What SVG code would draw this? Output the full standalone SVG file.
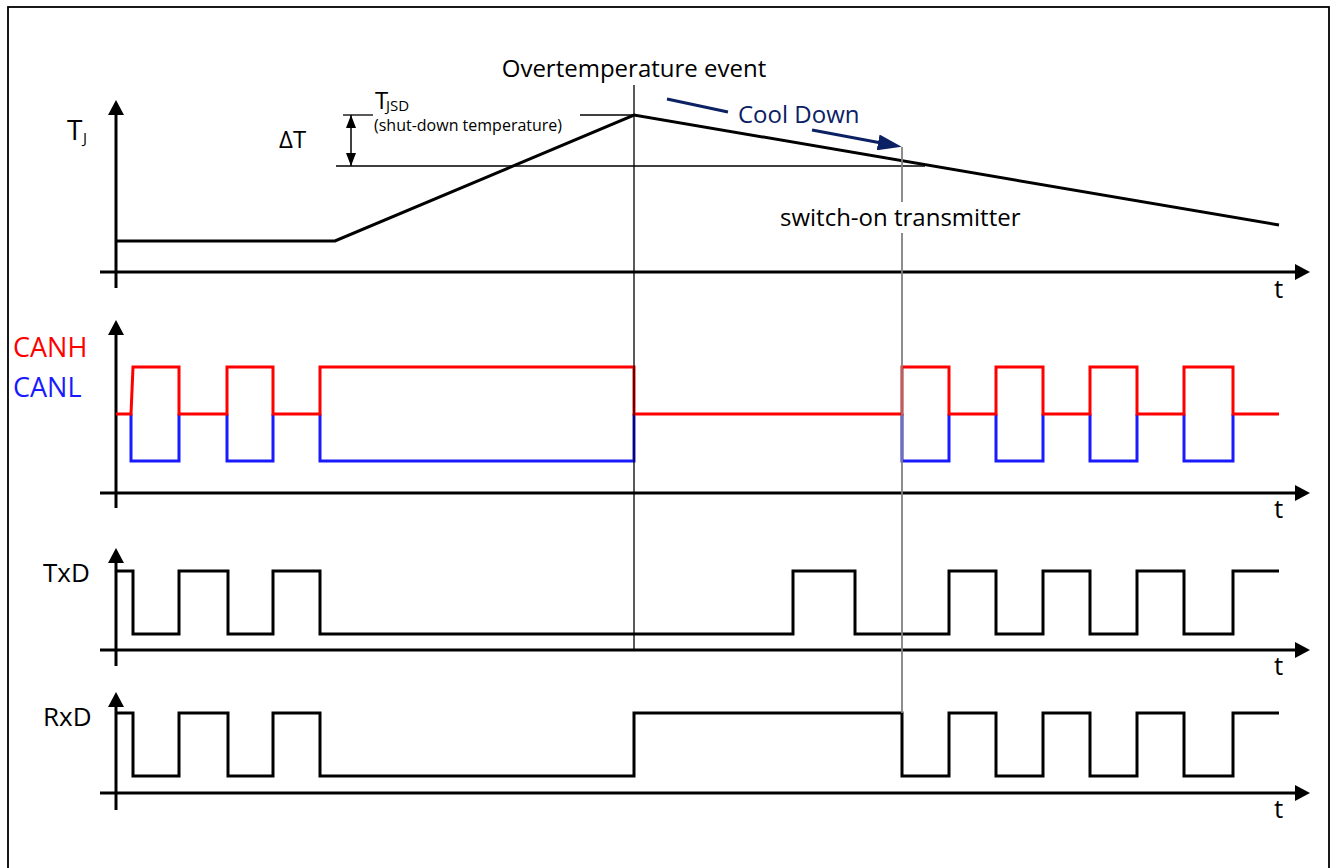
<svg xmlns="http://www.w3.org/2000/svg" width="1333" height="868" viewBox="0 0 1333 868">
<style>
text{font-family:"Open Sans","Noto Sans","DejaVu Sans",sans-serif;fill:#000}
.axis{stroke:#000;stroke-width:3;fill:none}
.sig{stroke:#000;stroke-width:3;fill:none;stroke-linejoin:miter}
.thin{stroke:#000;stroke-width:1.3;fill:none}
.gray{stroke:#808080;stroke-width:1.8;fill:none}
.navy{stroke:#0b2164;stroke-width:3;fill:none}
</style>
<defs>
<marker id="ah" viewBox="0 0 15 16" refX="5" refY="8" markerWidth="15" markerHeight="16" orient="auto" markerUnits="userSpaceOnUse"><path d="M0,0 L15,8 L0,16 Z" fill="#000"/></marker>
<marker id="sm" viewBox="0 0 13 10" refX="13" refY="5" markerWidth="13" markerHeight="10" orient="auto-start-reverse" markerUnits="userSpaceOnUse"><path d="M0,0 L13,5 L0,10 Z" fill="#000"/></marker>
<marker id="nv" viewBox="0 0 24 16" refX="6" refY="8" markerWidth="24" markerHeight="16" orient="auto" markerUnits="userSpaceOnUse"><path d="M0,0 L24,8 L0,16 Z" fill="#0b2164"/></marker>
</defs>
<rect id="frame" x="8" y="7" width="1321" height="880" fill="#fff" stroke="#000" stroke-width="1.8"/>

<g id="panel-tj">
<line class="axis" x1="116" y1="288" x2="116" y2="110" marker-end="url(#ah)"/>
<line class="axis" x1="100" y1="272" x2="1300" y2="272" marker-end="url(#ah)"/>
<path class="sig" d="M116,241 H335 L634,115 L1279,225"/>
<text x="67" y="140" font-size="28">T</text><text x="83" y="143" font-size="15">J</text>
<text x="1274" y="298" font-size="26">t</text>
</g>

<g id="panel-can">
<line class="axis" x1="116" y1="508" x2="116" y2="330" marker-end="url(#ah)"/>
<line class="axis" x1="100" y1="493" x2="1300" y2="493" marker-end="url(#ah)"/>
<path d="M131,414 V461 H179 V414 M227,414 V461 H273 V414 M320,414 V461 H634 V414 M902,414 V461 H949 V414 M996,414 V461 H1043 V414 M1090,414 V461 H1137 V414 M1184,414 V461 H1233 V414" fill="none" stroke="#1a1aff" stroke-width="3"/>
<path d="M116,414 H131 L133,367 H179 V414 H227 V367 H273 V414 H320 V367 H634 V414 H902 V367 H949 V414 H996 V367 H1043 V414 H1090 V367 H1137 V414 H1184 V367 H1233 V414 H1279" fill="none" stroke="#ff0000" stroke-width="3"/>
<text x="13" y="357" font-size="27" style="fill:#ff0000">CANH</text>
<text x="13" y="397" font-size="27" style="fill:#1a1aff">CANL</text>
<text x="1274" y="518" font-size="26">t</text>
</g>

<g id="panel-txd">
<line class="axis" x1="116" y1="666" x2="116" y2="558" marker-end="url(#ah)"/>
<line class="axis" x1="100" y1="650" x2="1300" y2="650" marker-end="url(#ah)"/>
<path class="sig" d="M116,571 H133 V634 H179 V571 H228 V634 H273 V571 H320 V634 H793 V571 H855 V634 H949 V571 H996 V634 H1043 V571 H1090 V634 H1137 V571 H1184 V634 H1233 V571 H1279"/>
<text x="43" y="582" font-size="26">TxD</text>
<text x="1274" y="675" font-size="26">t</text>
</g>

<g id="panel-rxd">
<line class="axis" x1="116" y1="810" x2="116" y2="702" marker-end="url(#ah)"/>
<line class="axis" x1="100" y1="793" x2="1300" y2="793" marker-end="url(#ah)"/>
<path class="sig" d="M116,713 H133 V776 H179 V713 H228 V776 H273 V713 H320 V776 H634 V713 H902 V776 H949 V713 H996 V776 H1043 V713 H1090 V776 H1137 V713 H1184 V776 H1233 V713 H1279"/>
<text x="43" y="726" font-size="26">RxD</text>
<text x="1274" y="818" font-size="26">t</text>
</g>

<g id="annotations">
<text x="634" y="77" font-size="24" text-anchor="middle">Overtemperature event</text>
<text x="375" y="109" font-size="24">T</text><text x="386" y="111" font-size="15">JSD</text>
<text x="374" y="131" font-size="16">(shut-down temperature)</text>
<text x="279" y="148" font-size="24">ΔT</text>
<text x="738" y="123" font-size="24" style="fill:#0b2164">Cool Down</text>
<text x="780" y="226" font-size="24">switch-on transmitter</text>
</g>

<g id="connectors">
<line class="thin" x1="343" y1="115" x2="373" y2="115"/>
<line class="thin" x1="580" y1="115" x2="634" y2="115"/>
<line class="thin" x1="336" y1="166" x2="925" y2="166"/>
<line x1="351" y1="115" x2="351" y2="166" stroke="#000" stroke-width="1.5" marker-start="url(#sm)" marker-end="url(#sm)"/>
<line class="thin" x1="634" y1="85" x2="634" y2="650"/>
<line class="gray" x1="902" y1="147" x2="902" y2="202"/>
<line class="gray" x1="902" y1="233" x2="902" y2="713"/>
<line class="navy" x1="667" y1="99" x2="728" y2="112"/>
<line class="navy" x1="812" y1="130" x2="884" y2="143.5" marker-end="url(#nv)"/>
</g>
</svg>
